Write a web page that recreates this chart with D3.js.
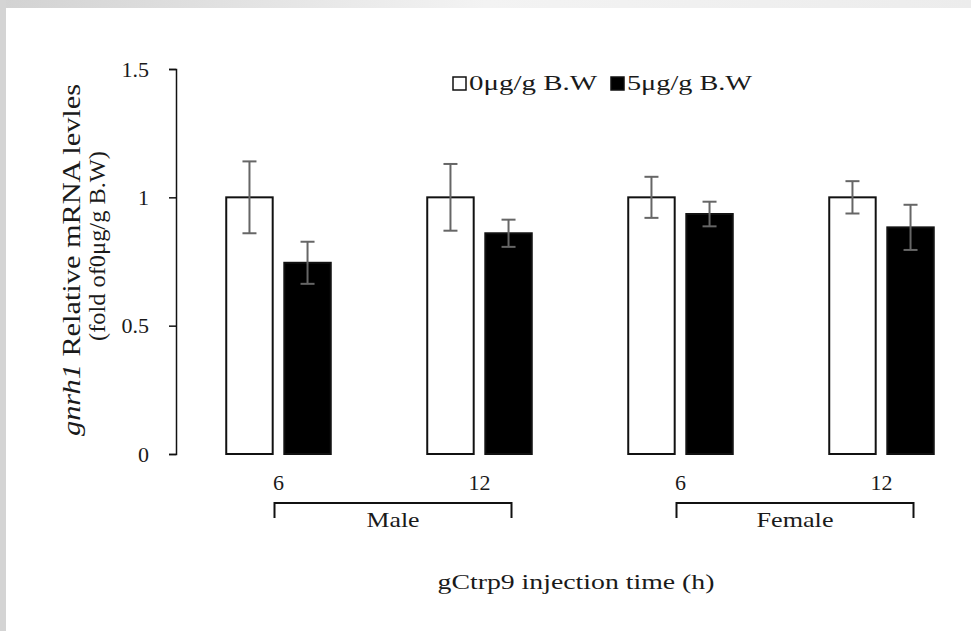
<!DOCTYPE html>
<html>
<head>
<meta charset="utf-8">
<script src="https://cdn.jsdelivr.net/npm/d3@7"></script>
<style>
  html, body { margin: 0; padding: 0; background: #fff; }
  svg { display: block; font-family: "Liberation Serif", "Times New Roman", serif; }
</style>
</head>
<body>
<div id="chart"></div>
<script>
// données
const groups = ["M6", "M12", "F6", "F12"];
const timeLabels = ["6", "12", "6", "12"];
const sexes = ["Male", "Female"];
const sexGroups = [["M6", "M12"], ["F6", "F12"]];
const series = ["0μg/g B.W", "5μg/g B.W"];
const controlVals = [1, 1, 1, 1];
const controlErr = [0.14, 0.13, 0.08, 0.063];
const treatedVals = [0.745, 0.86, 0.935, 0.883];
const treatedErr = [0.082, 0.053, 0.048, 0.088];
const yTicks = [0, 0.5, 1, 1.5];

const width = 971, height = 631;

const svg = d3.select("#chart").append("svg")
  .attr("width", width)
  .attr("height", height);

// cadre gris (capture d'écran)
const grad = svg.append("defs").append("linearGradient").attr("id", "topgrad");
grad.append("stop").attr("offset", "0%").attr("stop-color", "#d2d2d2");
grad.append("stop").attr("offset", "50%").attr("stop-color", "#f3f3f3");
grad.append("stop").attr("offset", "100%").attr("stop-color", "#ececec");
svg.append("rect").attr("x", 0).attr("y", 0).attr("width", width).attr("height", 8).attr("fill", "url(#topgrad)");
svg.append("rect").attr("x", 0).attr("y", 0).attr("width", 6).attr("height", height).attr("fill", "#d4d4d4");

// échelles
const y = d3.scaleLinear().domain([0, 1.5]).range([454, 69]);

const x0 = d3.scaleBand()
  .domain(groups)
  .range([178, 982])
  .paddingInner(0.48)
  .paddingOuter(0.24);

const x1 = d3.scaleBand()
  .domain(series)
  .range([0, x0.bandwidth()])
  .paddingInner(0.2);

const mid = g => x0(g) + x0.bandwidth() / 2;

// axe Y
const yAxis = d3.axisLeft(y)
  .tickValues(yTicks)
  .tickFormat(d3.format("~g"))
  .tickSize(7)
  .tickSizeOuter(7)
  .tickPadding(20);

const gy = svg.append("g")
  .attr("transform", "translate(176,0)")
  .call(yAxis);
gy.select(".domain").attr("stroke", "#111").attr("stroke-width", 1.5);
gy.selectAll(".tick line").attr("stroke", "#111").attr("stroke-width", 1.5);
gy.selectAll(".tick text")
  .attr("font-size", 22)
  .attr("font-family", "Liberation Serif")
  .attr("fill", "#1a1a1a");

// titre axe Y (deux lignes, texte étiré comme sur la figure)
const yTitle = svg.append("text")
  .attr("transform", `translate(80, 260) rotate(-90)`)
  .attr("text-anchor", "middle")
  .attr("font-size", 25)
  .attr("fill", "#1a1a1a")
  .attr("textLength", 352)
  .attr("lengthAdjust", "spacingAndGlyphs");
yTitle.append("tspan").attr("font-style", "italic").text("gnrh1");
yTitle.append("tspan").text(" Relative mRNA levles");

svg.append("text")
  .attr("transform", `translate(105, 246) rotate(-90)`)
  .attr("text-anchor", "middle")
  .attr("font-size", 24)
  .attr("fill", "#1a1a1a")
  .attr("textLength", 190)
  .attr("lengthAdjust", "spacingAndGlyphs")
  .text("(fold of0μg/g B.W)");

// barres
const rows = groups.map((g, i) => ({
  group: g,
  bars: [
    { s: series[0], v: controlVals[i], e: controlErr[i] },
    { s: series[1], v: treatedVals[i], e: treatedErr[i] }
  ]
}));

const gBars = svg.append("g")
  .selectAll("g")
  .data(rows)
  .join("g")
  .attr("transform", d => `translate(${x0(d.group)},0)`);

gBars.selectAll("rect")
  .data(d => d.bars)
  .join("rect")
  .attr("x", d => x1(d.s))
  .attr("y", d => y(d.v))
  .attr("width", x1.bandwidth())
  .attr("height", d => y(0) - y(d.v))
  .attr("fill", (d, i) => i === 0 ? "#fff" : "#000")
  .attr("stroke", "#111")
  .attr("stroke-width", 2);

// barres d'erreur
const cap = 7;
const errG = gBars.selectAll("g.err")
  .data(d => d.bars)
  .join("g")
  .attr("class", "err")
  .attr("stroke", "#666")
  .attr("stroke-width", 2);

errG.append("line")
  .attr("x1", d => x1(d.s) + x1.bandwidth() / 2)
  .attr("x2", d => x1(d.s) + x1.bandwidth() / 2)
  .attr("y1", d => y(d.v + d.e))
  .attr("y2", d => y(d.v - d.e));
errG.append("line")
  .attr("x1", d => x1(d.s) + x1.bandwidth() / 2 - cap)
  .attr("x2", d => x1(d.s) + x1.bandwidth() / 2 + cap)
  .attr("y1", d => y(d.v + d.e))
  .attr("y2", d => y(d.v + d.e));
errG.append("line")
  .attr("x1", d => x1(d.s) + x1.bandwidth() / 2 - cap)
  .attr("x2", d => x1(d.s) + x1.bandwidth() / 2 + cap)
  .attr("y1", d => y(d.v - d.e))
  .attr("y2", d => y(d.v - d.e));

// étiquettes de temps
svg.append("g")
  .selectAll("text")
  .data(groups)
  .join("text")
  .attr("x", d => mid(d))
  .attr("y", 490)
  .attr("text-anchor", "middle")
  .attr("font-size", 22)
  .attr("fill", "#1a1a1a")
  .text((d, i) => timeLabels[i]);

// accolades Male / Female
const sexWidths = [53, 77];
const brackets = svg.append("g")
  .selectAll("g")
  .data(sexes.map((s, i) => ({ sex: s, a: mid(sexGroups[i][0]) - 4, b: mid(sexGroups[i][1]) + 32, w: sexWidths[i] })))
  .join("g");

brackets.append("path")
  .attr("d", d => `M${d.a},518V503H${d.b}V518`)
  .attr("fill", "none")
  .attr("stroke", "#111")
  .attr("stroke-width", 2);

brackets.append("text")
  .attr("x", d => (d.a + d.b) / 2)
  .attr("y", 527)
  .attr("text-anchor", "middle")
  .attr("font-size", 22)
  .attr("fill", "#1a1a1a")
  .attr("textLength", d => d.w)
  .attr("lengthAdjust", "spacingAndGlyphs")
  .text(d => d.sex);

// titre axe X
svg.append("text")
  .attr("x", 576)
  .attr("y", 589)
  .attr("text-anchor", "middle")
  .attr("font-size", 22)
  .attr("fill", "#1a1a1a")
  .attr("textLength", 277)
  .attr("lengthAdjust", "spacingAndGlyphs")
  .text("gCtrp9  injection time (h)");

// légende
const legWidths = [128, 125];
const legend = svg.append("g").attr("transform", "translate(453,77)");
const legItems = legend.selectAll("g")
  .data(series)
  .join("g")
  .attr("transform", (d, i) => `translate(${i * 158},0)`);

legItems.append("rect")
  .attr("x", 0).attr("y", 0)
  .attr("width", 13).attr("height", 13)
  .attr("fill", (d, i) => i === 0 ? "#fff" : "#000")
  .attr("stroke", "#111")
  .attr("stroke-width", 1.5);

legItems.append("text")
  .attr("x", 16)
  .attr("y", 13)
  .attr("font-size", 22)
  .attr("fill", "#1a1a1a")
  .attr("textLength", (d, i) => legWidths[i])
  .attr("lengthAdjust", "spacingAndGlyphs")
  .text(d => d);
</script>
</body>
</html>
